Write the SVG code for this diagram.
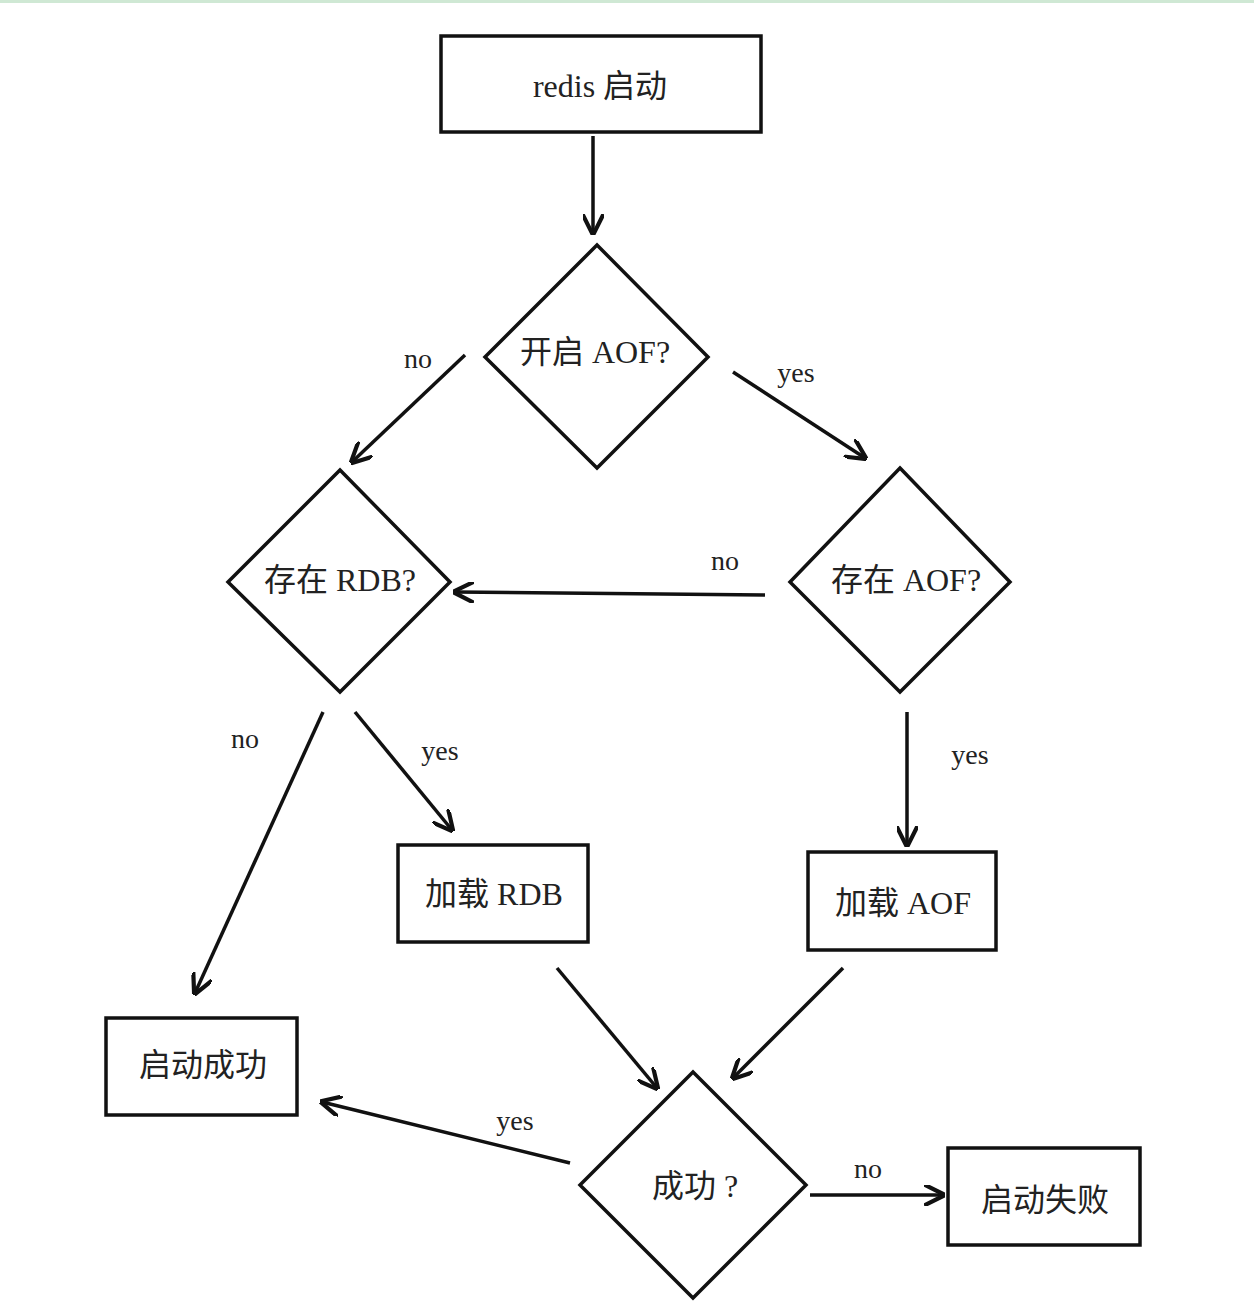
<svg xmlns="http://www.w3.org/2000/svg" width="1254" height="1306" viewBox="0 0 1254 1306">
<style>
.s{fill:#fff;stroke:#111;stroke-width:3.5}
.t{font-family:"Liberation Serif","Noto Sans CJK SC",serif;font-size:32px;fill:#222;text-anchor:middle;dominant-baseline:central}
.l{font-family:"Liberation Serif",serif;font-size:28px;fill:#222;text-anchor:middle}
.c{stroke:#111;stroke-width:3.5;fill:none;marker-end:url(#a)}
</style>
<defs><marker id="a" viewBox="0 0 10 10" refX="9" refY="5" markerWidth="6" markerHeight="6" orient="auto"><path d="M0,0 L10,5 L0,10" fill="none" stroke="#111" stroke-width="2"/></marker></defs>
<rect width="1254" height="1306" fill="#fff"/>
<rect x="0" y="0" width="1254" height="3" fill="#cfe8d4"/>
<g id="start"><rect class="s" x="441" y="36" width="320" height="96"/><text class="t" x="600" y="86">redis 启动</text></g>
<g id="d1"><polygon class="s" points="597,245 708,357 597,468 485,357"/><text class="t" x="595" y="352">开启 AOF?</text></g>
<g id="d2"><polygon class="s" points="340,470 450,582 340,692 228,582"/><text class="t" x="340" y="580">存在 RDB?</text></g>
<g id="d3"><polygon class="s" points="900,468 1010,582 900,692 790,582"/><text class="t" x="906" y="580">存在 AOF?</text></g>
<g id="lrdb"><rect class="s" x="398" y="845" width="190" height="97"/><text class="t" x="494" y="894">加载 RDB</text></g>
<g id="laof"><rect class="s" x="808" y="852" width="188" height="98"/><text class="t" x="903" y="903">加载 AOF</text></g>
<g id="ok"><rect class="s" x="106" y="1018" width="191" height="97"/><text class="t" x="203" y="1065">启动成功</text></g>
<g id="d4"><polygon class="s" points="693,1072 806,1185 693,1298 580,1185"/><text class="t" x="695" y="1186">成功 ?</text></g>
<g id="fail"><rect class="s" x="948" y="1148" width="192" height="97"/><text class="t" x="1045" y="1200">启动失败</text></g>
<g id="connectors">
<path class="c" d="M593,136 L593,233"/>
<path class="c" d="M465,355 L352,462"/>
<path class="c" d="M733,372 L865,458"/>
<path class="c" d="M765,595 L455,592"/>
<path class="c" d="M323,712 L195,993"/>
<path class="c" d="M355,712 L452,830"/>
<path class="c" d="M907,712 L907,845"/>
<path class="c" d="M557,968 L657,1088"/>
<path class="c" d="M843,968 L733,1078"/>
<path class="c" d="M570,1163 L322,1102"/>
<path class="c" d="M810,1195 L943,1195"/>
</g>
<g id="labels">
<text class="l" x="418" y="368">no</text>
<text class="l" x="796" y="382">yes</text>
<text class="l" x="725" y="570">no</text>
<text class="l" x="245" y="748">no</text>
<text class="l" x="440" y="760">yes</text>
<text class="l" x="970" y="764">yes</text>
<text class="l" x="515" y="1130">yes</text>
<text class="l" x="868" y="1178">no</text>
</g>
</svg>
